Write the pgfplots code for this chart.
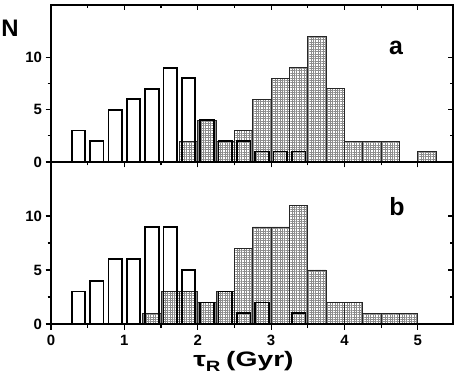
\documentclass[border=0pt]{standalone}
\usepackage{pgfplots}
\pgfplotsset{compat=1.18}
\usetikzlibrary{patterns.meta}
\usepackage{fontspec}
\setmainfont{Liberation Sans}

\pgfplotsset{
  common/.style={
    scale only axis, width=402bp,
    xmin=0, xmax=5.48, ymin=0, ymax=15,
    xtick={0,1,2,3,4,5}, minor x tick num=1,
    ytick={0,5,10}, minor y tick num=1,
    axis line style={line width=1.3pt},
    tick style={line width=1.1pt, black},
    major tick length=5.5bp, minor tick length=3.5bp,
    /pgf/number format/assume math mode=true,
    ticklabel style={font=\fontsize{15}{17}\selectfont\bfseries},
    anchor=south west,
  },
  mainax/.style={common, xtick pos=bottom, ytick pos=left, tick align=outside},
  overax/.style={common, xtick pos=top, ytick pos=right, tick align=inside,
    xticklabels={}, yticklabels={}},
  hatchbar/.style={ybar, bar width=0.25, bar shift=0pt, draw=black!85, line width=0.6pt,
    fill=white, postaction={pattern={Hatch[angle=0,distance=2.4pt,line width=0.3pt]}, pattern color=black!45}},
  openbar/.style={ybar, bar width=0.185, bar shift=0pt, draw=black, line width=1.7pt, fill=none},
}

\begin{document}
\begin{tikzpicture}
\useasboundingbox (0,0) rectangle (459bp,379bp);

% Panel a
\begin{axis}[mainax, height=157bp, at={(51bp,217bp)}, xticklabels={}]
\addplot[hatchbar] coordinates {(1.875,2) (2.125,4) (2.375,2) (2.625,3) (2.875,6) (3.125,8) (3.375,9) (3.625,12) (3.875,7) (4.125,2) (4.375,2) (4.625,2) (5.125,1)};
\addplot[openbar] coordinates {(0.375,3) (0.625,2) (0.875,5) (1.125,6) (1.375,7) (1.625,9) (1.875,8) (2.125,4) (2.375,2) (2.625,2) (2.875,1) (3.125,1) (3.375,1)};
\end{axis}
\begin{axis}[overax, height=157bp, at={(51bp,217bp)}]
\end{axis}

% Panel b
\begin{axis}[mainax, height=162bp, at={(51bp,55bp)},
  xticklabel style={yshift=-2bp}]
\addplot[hatchbar] coordinates {(1.375,1) (1.625,3) (1.875,3) (2.125,2) (2.375,3) (2.625,7) (2.875,9) (3.125,9) (3.375,11) (3.625,5) (3.875,2) (4.125,2) (4.375,1) (4.625,1) (4.875,1)};
\addplot[openbar] coordinates {(0.375,3) (0.625,4) (0.875,6) (1.125,6) (1.375,9) (1.625,9) (1.875,5) (2.125,2) (2.375,3) (2.625,1) (2.875,2) (3.375,1)};
\end{axis}
\begin{axis}[overax, height=162bp, at={(51bp,55bp)}]
\end{axis}

\node[font=\fontsize{24}{26}\selectfont\bfseries] at (10bp,350.5bp) {N};
\node[anchor=base, font=\fontsize{25}{27}\selectfont\bfseries] at (396bp,324bp) {a};
\node[anchor=base, font=\fontsize{25}{27}\selectfont\bfseries] at (397bp,163.5bp) {b};
\node[anchor=base, font=\fontsize{21}{23}\selectfont\bfseries] at (243.5bp,12.5bp)
  {\scalebox{1.35}[1]{τ\raisebox{-0.45ex}{\fontsize{15}{15}\selectfont R}\hspace{0.2em}(Gyr)}};
\end{tikzpicture}
\end{document}
